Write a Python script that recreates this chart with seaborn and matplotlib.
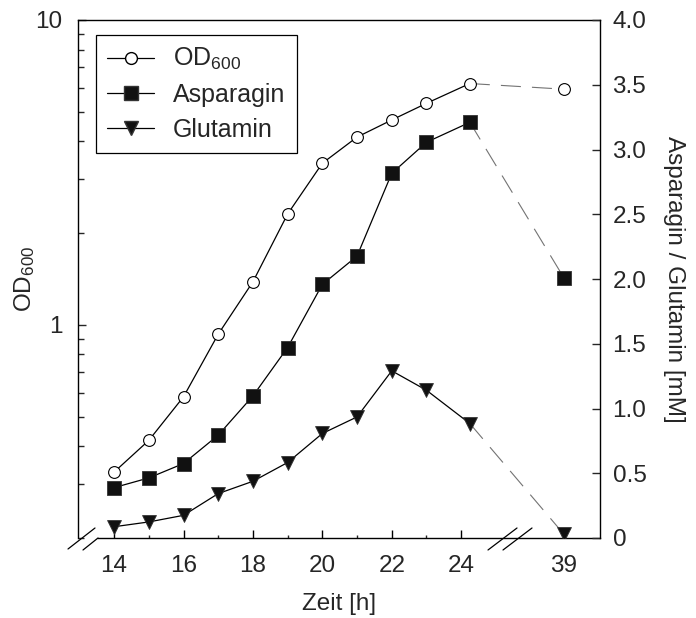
import numpy as np
import pandas as pd
import matplotlib
matplotlib.use("Agg")
import matplotlib.pyplot as plt
from matplotlib.lines import Line2D
from matplotlib.ticker import LogLocator, NullFormatter, FixedLocator
import seaborn as sns

# ---- data ----
hours = [14, 15, 16, 17, 18, 19, 20, 21, 22, 23, 24.25, 39]
od600 = [0.329, 0.418, 0.581, 0.932, 1.385, 2.31, 3.39, 4.13, 4.70, 5.33, 6.19, 5.93]
asparagin = [0.389, 0.464, 0.575, 0.794, 1.097, 1.471, 1.958, 2.177, 2.816, 3.056, 3.210, 2.009]
glutamin = [0.087, 0.124, 0.175, 0.343, 0.438, 0.583, 0.807, 0.935, 1.291, 1.141, 0.884, 0.029]
x_major = [14, 16, 18, 20, 22, 24, 39]
x_major_labels = ["14", "16", "18", "20", "22", "24", "39"]
x_minor = [15, 17, 19, 21, 23]
left_ticks = [1, 10]
left_labels = ["1", "10"]
right_ticks = [0, 0.5, 1.0, 1.5, 2.0, 2.5, 3.0, 3.5, 4.0]
right_labels = ["0", "0.5", "1.0", "1.5", "2.0", "2.5", "3.0", "3.5", "4.0"]

sns.set_style("ticks")
plt.rcParams["font.family"] = ["Liberation Sans", "DejaVu Sans"]
plt.rcParams["mathtext.default"] = "regular"

df = pd.DataFrame({"Zeit": hours, "OD": od600, "Asn": asparagin, "Gln": glutamin})
main = df.iloc[:11]
tail = df.iloc[10:]

W, H = 696, 618
fig = plt.figure(figsize=(W / 100, H / 100), dpi=100)
ax = fig.add_axes([78 / W, 1 - 538 / H, 522 / W, 518 / H])

# broken time axis: compress the gap between 25.5 h and 37.6 h
hb = [0, 25.5, 37.6, 100]
pb = [0, 25.5, 25.56, 87.96]
fwd = lambda x: np.interp(x, hb, pb)
inv = lambda p: np.interp(p, pb, hb)
ax.set_xscale("function", functions=(fwd, inv))
ax.set_yscale("log")
ax2 = ax.twinx()

line_kw = dict(color="black", lw=0.9)
dash_kw = dict(color="0.45", lw=0.8, linestyle=(0, (18, 10)))

# OD600 on the left (log) axis
sns.lineplot(data=main, x="Zeit", y="OD", ax=ax, **line_kw)
sns.lineplot(data=tail, x="Zeit", y="OD", ax=ax, **dash_kw)
sns.scatterplot(data=df, x="Zeit", y="OD", ax=ax, marker="o", s=72,
                color="white", edgecolor="black", linewidth=0.8, zorder=3)

# amino acids on the right (linear) axis
for col, mk, size in [("Asn", "s", 115), ("Gln", "v", 100)]:
    sns.lineplot(data=main, x="Zeit", y=col, ax=ax2, **line_kw)
    sns.lineplot(data=tail, x="Zeit", y=col, ax=ax2, **dash_kw)
    sns.scatterplot(data=df, x="Zeit", y=col, ax=ax2, marker=mk, s=size,
                    color="#111111", edgecolor="#333333", linewidth=0.6, zorder=3)

ax.set_xlim(12.96, 40.04)
ax.set_ylim(0.2, 10)
ax2.set_ylim(0, 4)

ax.set_xticks(x_major)
ax.set_xticklabels(x_major_labels)
ax.xaxis.set_minor_locator(FixedLocator(x_minor))
ax.xaxis.set_minor_formatter(NullFormatter())
ax.set_yticks(left_ticks)
ax.set_yticklabels(left_labels)
ax.yaxis.set_minor_locator(LogLocator(base=10, subs=np.arange(2, 10)))
ax.yaxis.set_minor_formatter(NullFormatter())
ax2.set_yticks(right_ticks)
ax2.set_yticklabels(right_labels)

ax.tick_params(axis="x", which="major", direction="in", length=6, width=1,
               labelsize=17.5, pad=12, top=False, color="black")
ax.tick_params(axis="x", which="minor", direction="in", length=2.5, width=1, top=False)
ax.tick_params(axis="y", which="major", direction="in", length=6, width=1,
               labelsize=17.5, pad=11, right=False)
ax.tick_params(axis="y", which="minor", direction="in", length=4, width=1, right=False)
ax2.tick_params(axis="y", which="major", direction="in", length=5.5, width=1,
                labelsize=17.5, pad=9)

ax.set_xlabel("Zeit [h]", fontsize=17.5, labelpad=12)
ax.set_ylabel("OD$_{600}$", fontsize=17.5, labelpad=-1)
ax2.set_ylabel("Asparagin / Glutamin [mM]", fontsize=17.5, rotation=270, labelpad=28)

for a in (ax, ax2):
    for s in a.spines.values():
        s.set_linewidth(1.0)
        s.set_color("black")
ax2.spines["left"].set_visible(False)
ax2.spines["bottom"].set_visible(False)
ax2.spines["top"].set_visible(False)
ax.spines["right"].set_visible(False)
ax.spines["bottom"].set_bounds(13.54, 40.04)

# axis break marks
def fig_line(x0, y0, x1, y1):
    fig.add_artist(Line2D([x0 / W, x1 / W], [1 - y0 / H, 1 - y1 / H],
                          color="black", lw=0.9, transform=fig.transFigure))

fig_line(68, 549, 95, 528)
fig_line(83, 550, 98, 538)
fig_line(488, 550, 517, 528)
fig_line(503, 550, 532, 528)

handles = [
    Line2D([], [], color="black", lw=0.9, marker="o", markersize=8.5,
           markerfacecolor="white", markeredgecolor="black"),
    Line2D([], [], color="black", lw=0.9, marker="s", markersize=10.5,
           markerfacecolor="#111111", markeredgecolor="#333333"),
    Line2D([], [], color="black", lw=0.9, marker="v", markersize=10,
           markerfacecolor="#111111", markeredgecolor="#333333"),
]
labels = ["OD$_{600}$", "Asparagin", "Glutamin"]
leg = ax2.legend(handles, labels, loc="upper left", bbox_to_anchor=(0.034, 0.971),
                 borderaxespad=0, fontsize=18, frameon=True, fancybox=False,
                 framealpha=1, edgecolor="black", handlelength=1.9,
                 handletextpad=0.75, labelspacing=0.43, borderpad=0.45)
leg.get_frame().set_linewidth(0.9)

fig.savefig("out.png", dpi=100, facecolor="white")
